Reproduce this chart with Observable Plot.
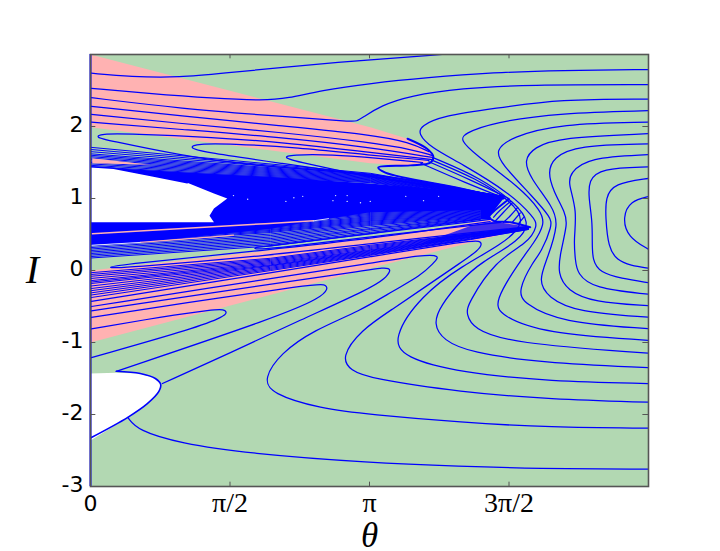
<!DOCTYPE html>
<html><head><meta charset="utf-8">
<style>html,body{margin:0;padding:0;background:#fff}svg{display:block}</style>
<script src="https://cdn.jsdelivr.net/npm/d3@7"></script>
<script src="https://cdn.jsdelivr.net/npm/@observablehq/plot@0.6"></script>
</head><body><div id="c"></div>
<script>
const xTicks=[Math.PI/2,Math.PI,3*Math.PI/2];
const xTickLabels=["π/2","π","3π/2"];
const yTicks=[-3,-2,-1,0,1,2];

// regions (theta, I)
const pinkUpper=[[0,3],[3.15,1.99],[3.57,1.83],[3.79,1.69],[3.86,1.58],[3.79,1.5],[3.6,1.46],[3.15,1.49],[0,1.99]];
const pinkLower=[[0,0],[2.03,.28],[4.05,.61],[4.5,.71],[4.95,.6],[3.15,.03],[0,-1]];
const pinkSmall=[[.02,1.56],[.68,1.47],[.02,1.49]];
const holeUpper=[[0,1.44],[.26,1.42],[.68,1.32],[1.09,1.22],[1.39,1.07],[1.54,1],[1.39,.86],[1.34,.76],[1.39,.67],[0,.67]];
const holeLower=[[0,-1.43],[.29,-1.42],[.56,-1.43],[.73,-1.5],[.79,-1.58],[.77,-1.68],[.64,-1.85],[.42,-2.04],[0,-2.36]];
const solidCore=[[0,.67],[.26,1.42],[1.09,1.36],[2.03,1.3],[3.15,1.21],[4.05,1.11],[4.65,1],[4.5,.76],[4.5,.71],[4.39,.71],[4.39,.84],[3.15,.81],[2.53,.69],[2.03,.58],[.56,.39],[0,.36]];
const solidTip=[[4.54,.68],[4.97,.6],[4.68,.53],[3.7,.36],[4.3,.63]];
const lens=[[4.71,.99],[4.53,.81],[4.49,.75],[4.54,.69],[4.73,.67],[4.9,.64],[4.84,.83],[4.79,.93]];

// dense fans
const upTheta=[.01,3.15,4.65];
const upA=[1.71,1.68,1.65,1.62,1.6,1.58,1.56,1.54,1.52,1.5,1.48,1.46,1.44,1.42];
const upB=[1.35,1.34,1.33,1.32,1.31,1.3,1.29,1.28,1.27,1.26,1.25,1.24,1.23,1.22];
const upC=[1.03,1.03,1.03,1.02,1.02,1.02,1.02,1.01,1.01,1.01,1.01,1,1,1];
const midTheta=[.01,2.03,3.15,4.39];
const midA=[.5,.486,.472,.458,.444,.431,.417,.403,.389,.375,.361,.34,.319,.299,.278,.257,.236,.215,.194,.174];
const midB=[.68,.667,.653,.632,.611,.597,.583,.569,.556,.542,.528,.507,.486,.465,.444,.424,.403,.382,.361,.34];
const midC=[.806,.792,.778,.764,.75,.736,.722,.708,.694,.681,.667,.653,.639,.625,.604,.583,.569,.549,.528,.514];
const midD=[.889,.88,.87,.86,.85,.84,.83,.82,.81,.8,.79,.78,.77,.76,.75,.74,.73,.72,.715,.71];
const lowTheta=[.01,2.03,3.15,4.28,4.93];
const lowA=[-.03,-.055,-.08,-.11,-.14,-.16,-.18,-.215,-.25,-.28,-.31,-.34,-.375];
const lowB=[.17,.155,.14,.125,.11,.095,.08,.07,.06,.045,.03,.015,0];
const lowC=[.35,.335,.32,.305,.29,.28,.27,.26,.25,.24,.23,.22,.21];
const lowD=[.51,.505,.5,.495,.49,.48,.47,.465,.46,.45,.44,.435,.43];
const lowE=[.6,.6,.6,.6,.59,.59,.59,.59,.58,.58,.58,.57,.57];

// contours
const l1=[[.01,2.74],[.45,2.69],[1.01,2.68],[1.5,2.74],[2.14,2.82],[3.15,2.93],[3.96,3.0]];
const l2=[[.01,2.53],[.64,2.46],[1.39,2.39],[1.95,2.36],[2.22,2.39],[2.59,2.5],[3.15,2.6],[3.79,2.68],[4.54,2.75],[5.29,2.78],[6.29,2.79]];
const l3=[[.01,2.4],[1.01,2.25],[2.14,2.14],[2.92,2.07],[3.0,2.07],[3.07,2.13],[3.27,2.29],[3.6,2.43],[4.17,2.53],[4.92,2.58],[6.29,2.58]];
const l4=[[.01,2.28],[1.01,2.15],[2.14,2.01],[3.15,1.89],[3.6,1.78],[3.81,1.65]];
const l5=[[.01,2.17],[1.01,2.04],[2.14,1.92],[3.15,1.78],[3.66,1.67],[3.84,1.6]];
const l6=[[.01,2.06],[1.01,1.96],[2.14,1.85],[3.15,1.71],[3.85,1.57]];
const h1=[[3.85,1.54],[3.15,1.64],[2.14,1.78],[1.39,1.85],[.45,1.9],[.11,1.9],[.06,1.85],[.19,1.81],[1.01,1.6],[1.77,1.46],[3.15,1.35],[4.05,1.18],[4.65,1.01]];
const h2=[[3.81,1.53],[3.15,1.6],[2.33,1.71],[1.58,1.76],[1.2,1.76],[1.11,1.71],[1.24,1.65],[2.14,1.49],[3.15,1.31],[4.05,1.15],[4.65,1.01]];
const h3=[[3.74,1.5],[3.15,1.57],[2.74,1.61],[2.25,1.61],[2.17,1.57],[2.33,1.51],[3.15,1.29],[4.05,1.13],[4.65,1]];
const f1=[[3.72,1.49],[4.22,1.22],[4.67,1]];
const f2=[[3.81,1.51],[4.28,1.26],[4.71,1]];
const r1=[[6.29,1.03],[6.08,.97],[5.99,.74],[6.05,.46],[6.29,.29]];
const r2=[[6.29,1.28],[5.89,1.21],[5.8,1.01],[5.8,.74],[5.83,.32],[5.93,.14],[6.08,.07],[6.29,.03]];
const r3=[[6.29,1.44],[5.74,1.42],[5.61,1.25],[5.61,1.01],[5.65,.69],[5.65,.42],[5.65,.14],[5.74,-.03],[5.97,-.11],[6.29,-.17]];
const r4=[[6.29,1.61],[5.6,1.57],[5.4,1.35],[5.38,1.21],[5.48,.83],[5.44,.42],[5.46,.14],[5.48,-.04],[5.66,-.25],[6.29,-.33]];
const r5=[[6.29,1.76],[5.48,1.74],[5.21,1.57],[5.15,1.36],[5.21,1.11],[5.35,.79],[5.37,.65],[5.29,.24],[5.26,-.04],[5.37,-.28],[5.66,-.44],[6.29,-.49]];
const r6=[[6.29,1.9],[5.29,1.85],[4.99,1.71],[4.88,1.53],[4.95,1.29],[5.21,.875],[5.27,.65],[5.15,.18],[5.04,-.14],[5.15,-.375],[5.48,-.58],[6.29,-.65]];
const r7=[[6.29,2.06],[5.29,2.04],[4.73,1.85],[4.56,1.67],[4.62,1.49],[4.99,1.01],[5.18,.74],[5.2,.625],[5.07,.24],[4.99,.14],[4.81,-.28],[4.88,-.46],[5.29,-.72],[6.29,-.81]];
const r8=[[6.29,2.22],[5.29,2.19],[4.54,2.06],[4.2,1.9],[4.17,1.81],[4.31,1.63],[4.84,1.15],[5.07,.83],[5.12,.65],[4.99,.375],[4.84,.14],[4.54,-.44],[4.62,-.625],[5.1,-.875],[6.29,-.97]];
const r9=[[6.29,2.38],[5.29,2.38],[4.54,2.25],[3.97,2.15],[3.72,2.01],[3.69,1.9],[3.83,1.71],[4.17,1.49],[4.73,1.07],[4.99,.74],[5.04,.625],[4.92,.375],[4.56,.14],[4.25,-.46],[4.23,-.6],[4.31,-.81],[4.73,-1.01],[6.29,-1.15]];
const r10=[[3.87,1.56],[4.39,1.29],[4.79,.93],[4.95,.67],[4.84,.42],[4.39,.11],[4.17,-.14],[3.94,-.49],[3.86,-.74],[3.97,-.97],[4.28,-1.14],[5.07,-1.28],[6.29,-1.35]];
const r11=[[3.85,1.53],[4.34,1.28],[4.73,.97],[4.92,.67],[4.62,.35],[4.19,.07],[3.72,-.35],[3.4,-.94],[3.52,-1.21],[4.17,-1.42],[5.18,-1.54],[6.29,-1.57]];
const lobeA=[[.01,-.81],[.82,-.64],[1.39,-.54],[1.5,-.54],[1.54,-.58],[1.5,-.64],[1.21,-.79],[.01,-1.21]];
const lobeB=[[.01,-.65],[1.01,-.46],[2.51,-.19],[2.64,-.19],[2.68,-.25],[2.59,-.38],[2.14,-.63],[.29,-1.4]];
const lobeC=[[.01,-.56],[2.03,-.19],[3.15,.01],[3.29,.04],[3.36,.03],[3.38,0],[3.32,-.11],[3.15,-.25],[2.36,-.69],[1.58,-1.14],[.81,-1.57]];
const lobeD=[[.01,-.5],[2.03,-.11],[3.15,.1],[3.77,.22],[3.88,.21],[3.92,.18],[3.86,.1],[3.72,-.07],[3.41,-.28],[3.04,-.56],[2.51,-.83],[2.14,-1.15],[1.95,-1.5],[2.03,-1.71],[2.59,-1.92],[3.15,-2],[4.17,-2.11],[5.18,-2.18],[6.29,-2.19]];
const lobeE=[[.01,-.43],[2.03,-.03],[3.15,.19],[4.28,.42],[4.38,.41],[4.41,.375],[4.37,.28],[4.17,.11],[3.79,-.21],[3.41,-.53],[3.04,-.83],[2.82,-1.21],[2.93,-1.39],[3.15,-1.5],[4.17,-1.69],[5.18,-1.79],[6.29,-1.83]];
const lobeF=[[4.5,.68],[3.15,.44],[2.03,.29],[.34,.08],[.17,.04],[.34,.03],[2.03,.21],[3.15,.375],[4.93,.61]];
const lobeG=[[4.5,.71],[3.15,.51],[1.91,.33],[1.82,.31],[1.91,.28],[3.15,.47],[4.62,.67]];
const bottomLine=[[.42,-2.04],[.53,-2.22],[1.01,-2.4],[1.77,-2.54],[3.15,-2.67],[4.17,-2.72],[5,-2.75],[6.29,-2.76]];
const arcs=[[[4.54,.74],[4.6,.83],[4.73,.96]],[[4.56,.69],[4.63,.78],[4.75,.94]],[[4.65,.67],[4.73,.76],[4.81,.875]],[[4.75,.67],[4.84,.8]],[[4.82,.65],[4.88,.74]]];
const holeEdge=[[.29,-1.4],[.56,-1.43],[.73,-1.5],[.79,-1.58],[.77,-1.68],[.64,-1.85],[.42,-2.04],[.01,-2.32]];
const holeTop=[[0,1.44],[.26,1.42],[.68,1.32],[1.09,1.22]];
const thickEdge=[[3.57,1.83],[3.79,1.69],[3.86,1.58],[3.83,1.5],[3.6,1.46],[3.24,1.43],[3.32,1.36],[4.17,1.14],[4.65,1]];
const lensEdge=[[4.71,.99],[4.53,.81],[4.49,.75],[4.54,.69],[4.73,.67],[4.95,.6]];
const streak1=[[.02,.51],[1.97,.65],[2.51,.69]];
const streak1End=[[2.51,.69],[2.68,.72]];
const streak2=[[.56,.39],[1.3,.46],[1.61,.49]];
const streak2Start=[[.01,.35],[.56,.39]];
const specks=[[1.61,1.04],[1.77,.99],[2.2,.96],[2.29,1.01],[2.39,1.03],[2.76,1.04],[2.73,.97],[2.89,1.04],[2.89,.96],[3.04,.94],[3.15,.96],[3.55,1.03],[3.75,.97],[3.92,1.03]];

const GREEN="#b2d8b2",PINK="#ffb2b2",BLUE="#0000ff";
const X=d=>d[0],Y=d=>d[1];
const fill=(p,c,o=1)=>Plot.line(p,{x:X,y:Y,fill:c,stroke:"none",fillOpacity:o,clip:true});
const row=(t,cols,i)=>t.map((v,k)=>[v,cols[k][i]]);
const fan=(t,cols,w,o=1)=>cols[0].map((_,i)=>Plot.line(row(t,cols,i),{x:X,y:Y,stroke:BLUE,strokeWidth:w,strokeOpacity:o,clip:true}));
const cont=(c,w=1.25,k="basis")=>Plot.line(c,{x:X,y:Y,stroke:BLUE,strokeWidth:w,curve:k,clip:true});
const contours=[l1,l2,l3,l4,l5,l6,h1,h2,h3,f1,f2,r1,r2,r3,r4,r5,r6,r7,r8,r9,r10,r11,lobeA,lobeB,lobeC,lobeD,lobeE,lobeF,lobeG,bottomLine,...arcs];
const GREY="#555";

const chart=Plot.plot({
  width:720,height:551,marginLeft:90,marginRight:72,marginTop:54,marginBottom:65,
  style:{background:"#fff",overflow:"visible"},
  x:{domain:[0,2*Math.PI],label:null},
  y:{domain:[-3,3],label:null},
  marks:[
    Plot.frame({fill:GREEN,stroke:"none"}),
    fill(pinkUpper,PINK),fill(pinkLower,PINK),
    ...fan(upTheta,[upA,upB,upC],1),
    ...fan(midTheta,[midA,midB,midC,midD],1),
    ...fan(lowTheta,[lowA,lowB,lowC,lowD,lowE],1),
    fill(solidCore,BLUE),fill(solidTip,BLUE,.75),
    fill(pinkSmall,PINK),
    Plot.line(streak1,{x:X,y:Y,stroke:PINK,strokeWidth:1.5}),
    Plot.line(streak1End,{x:X,y:Y,stroke:"#d8d8ff",strokeWidth:1}),
    Plot.line(streak2,{x:X,y:Y,stroke:PINK,strokeWidth:1.2}),
    Plot.line(streak2Start,{x:X,y:Y,stroke:"#e0e0ff",strokeWidth:1}),
    Plot.dot(specks,{x:X,y:Y,r:.7,fill:"#dfe8ff",stroke:"none"}),
    fill(holeUpper,"#fff"),fill(holeLower,"#fff"),fill(lens,GREEN),
    ...contours.map(c=>cont(c)),
    cont(holeEdge,1.6,"catmull-rom"),cont(holeTop,1.6,"linear"),cont(thickEdge,2,"catmull-rom"),cont(lensEdge,2,"catmull-rom"),
    Plot.ruleX([0],{stroke:BLUE,strokeWidth:2}),
    Plot.ruleX(xTicks,{y1:-3,y2:-2.94,stroke:GREY}),
    Plot.ruleX(xTicks,{y1:3,y2:2.94,stroke:GREY}),
    Plot.ruleY(yTicks,{x1:0,x2:.06,stroke:GREY}),
    Plot.ruleY(yTicks,{x1:6.283,x2:6.22,stroke:GREY}),
    Plot.frame({stroke:GREY,strokeWidth:1.6,fill:"none"}),
    Plot.axisY(yTicks,{tickSize:0,tickPadding:7,tickFormat:d=>String(d),fontSize:22,fontFamily:"DejaVu Sans",fill:"#000",dy:-2,label:null}),
    Plot.axisX([0],{tickSize:0,tickPadding:9,tickFormat:()=>"0",fontSize:22,fontFamily:"DejaVu Sans",fill:"#000",label:null}),
    Plot.axisX(xTicks,{tickSize:0,tickPadding:6,tickFormat:(d,i)=>xTickLabels[i],fontSize:28,fontFamily:"Liberation Serif",fill:"#000",label:null}),
    Plot.text(["θ"],{frameAnchor:"bottom",dy:49,lineAnchor:"middle",text:d=>d,fontSize:35,fontStyle:"italic",fontFamily:"Liberation Serif",fill:"#000"}),
    Plot.text(["I"],{frameAnchor:"left",dx:-58,textAnchor:"middle",text:d=>d,fontSize:40,fontStyle:"italic",fontFamily:"Liberation Serif",fill:"#000"})
  ]
});
document.getElementById("c").appendChild(chart);
</script></body></html>
